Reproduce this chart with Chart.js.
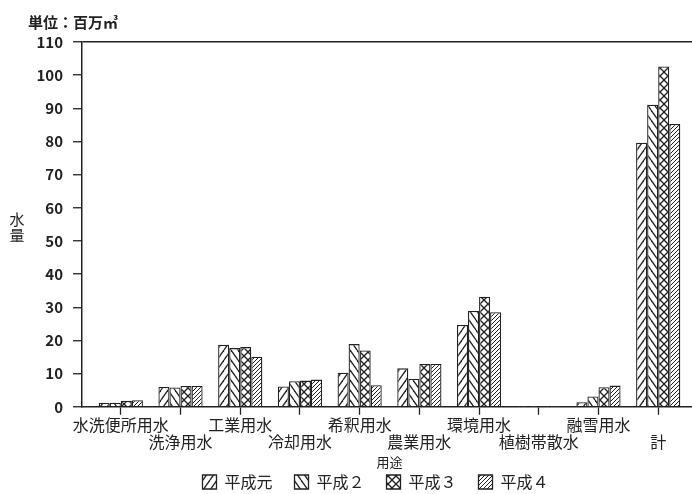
<!DOCTYPE html>
<html>
<head>
<meta charset="utf-8">
<script src="https://cdn.jsdelivr.net/npm/chart.js@4.4.1/dist/chart.umd.min.js"></script>
<style>
  html, body { margin: 0; padding: 0; background: #fff; overflow: hidden; }
  #wrap { width: 700px; height: 500px; }
</style>
</head>
<body>
<div id="wrap"><canvas id="chart"></canvas></div>
<script>
// 用途別の水量（単位：百万㎥）
const categories = ['水洗便所用水', '洗浄用水', '工業用水', '冷却用水', '希釈用水', '農業用水', '環境用水', '植樹帯散水', '融雪用水', '計'];
const seriesNames = ['平成元', '平成２', '平成３', '平成４'];
const heisei1 = [1.2, 6.0, 18.7, 6.1, 10.3, 11.6, 24.7, 0.1, 1.4, 79.6];
const heisei2 = [1.2, 5.8, 17.7, 7.7, 18.9, 8.4, 28.9, 0.1, 3.1, 91.1];
const heisei3 = [1.8, 6.3, 18.0, 7.9, 17.0, 12.9, 33.2, 0.1, 5.9, 102.6];
const heisei4 = [2.0, 6.3, 15.1, 8.2, 6.5, 12.9, 28.5, 0.1, 6.4, 85.3];
const yMin = 0, yMax = 110, yStep = 10;
const unitText = '単位：百万㎥';
const yTitle = ['水', '量'];
const xTitle = '用途';

const FONT = '"Noto Sans CJK JP", "Noto Sans", sans-serif';
const INK = '#222';

// hatch fills
function hatch(kind) {
  const c = document.createElement('canvas');
  const sizes = { fwd: [7, 10], back: [7, 10], cross: [8, 8], dense: [4, 4] };
  const [w, h] = sizes[kind];
  c.width = w; c.height = h;
  const g = c.getContext('2d');
  g.fillStyle = '#fff';
  g.fillRect(0, 0, w, h);
  g.strokeStyle = INK;
  g.lineWidth = kind === 'dense' ? 1 : 1.3;
  const fwd = () => {
    for (const dx of [-w, 0, w]) {
      g.beginPath(); g.moveTo(dx, h); g.lineTo(dx + w, 0); g.stroke();
    }
  };
  const back = () => {
    for (const dx of [-w, 0, w]) {
      g.beginPath(); g.moveTo(dx, 0); g.lineTo(dx + w, h); g.stroke();
    }
  };
  if (kind === 'fwd' || kind === 'dense') fwd();
  if (kind === 'back') back();
  if (kind === 'cross') { fwd(); back(); }
  return g.createPattern(c, 'repeat');
}

const fills = [hatch('fwd'), hatch('back'), hatch('cross'), hatch('dense')];
const series = [heisei1, heisei2, heisei3, heisei4];

const datasets = series.map((vals, s) => ({
  label: seriesNames[s],
  data: vals.map((v, i) => ({ x: i, y: v })),
  backgroundColor: fills[s],
  borderColor: INK,
  borderWidth: 1.3,
  barPercentage: 1,
  categoryPercentage: 0.74
}));

const yTitlePlugin = {
  id: 'yTitle',
  afterDraw(chart) {
    const { ctx, chartArea } = chart;
    const mid = (chartArea.top + chartArea.bottom) / 2;
    ctx.save();
    ctx.font = '15px ' + FONT;
    ctx.fillStyle = INK;
    ctx.textAlign = 'center';
    ctx.textBaseline = 'middle';
    yTitle.forEach((ch, i) => ctx.fillText(ch, 17, mid - 5 + i * 16));
    ctx.restore();
  }
};

// nudge the legend row a little to the right, like the original
const legendShift = {
  id: 'legendShift',
  afterLayout(chart) {
    if (chart.legend) { chart.legend.left += 13; chart.legend.right += 13; }
  }
};

new Chart(document.getElementById('chart'), {
  type: 'bar',
  data: { datasets },
  plugins: [yTitlePlugin, legendShift],
  options: {
    responsive: true,
    maintainAspectRatio: false,
    animation: false,
    layout: { padding: { left: 28, right: 3, top: 0, bottom: 0 } },
    plugins: {
      tooltip: { enabled: false },
      title: {
        display: true,
        text: unitText,
        align: 'start',
        color: INK,
        font: { family: FONT, size: 15, weight: 'bold' },
        padding: { top: 13, bottom: 11 }
      },
      legend: {
        position: 'bottom',
        labels: {
          color: INK,
          font: { family: FONT, size: 16 },
          boxWidth: 14,
          boxHeight: 14,
          padding: 22
        }
      }
    },
    scales: {
      x: {
        type: 'linear',
        min: -0.65,
        max: 9.65,
        offset: false,
        border: { display: true, color: INK, width: 1.5 },
        grid: { display: true, offset: false, drawOnChartArea: false, tickLength: 8, tickColor: INK, tickWidth: 1.3 },
        ticks: {
          stepSize: 1,
          includeBounds: false,
          autoSkip: false,
          maxRotation: 0,
          minRotation: 0,
          padding: 1.5,
          color: INK,
          font: { family: FONT, size: 16, lineHeight: 1.05 },
          callback: (value) => {
            if (!Number.isInteger(value) || !categories[value]) return '';
            return value % 2 === 0 ? categories[value] : ['', categories[value]];
          }
        },
        title: {
          display: true,
          text: xTitle,
          color: INK,
          font: { family: FONT, size: 13 },
          padding: { top: 3, bottom: -18 }
        }
      },
      y: {
        min: yMin,
        max: yMax,
        border: { display: true, color: INK, width: 1.5 },
        grid: {
          drawOnChartArea: true,
          tickLength: 9,
          tickColor: INK,
          tickWidth: 1.3,
          lineWidth: 1.5,
          color: (ctx) => (ctx.tick && ctx.tick.value === yMax ? INK : 'rgba(0,0,0,0)')
        },
        ticks: {
          stepSize: yStep,
          padding: 10,
          color: INK,
          font: { family: FONT, size: 15, weight: 'bold' }
        },
        afterFit: (scale) => { scale.width = 54; }
      }
    }
  }
});
</script>
</body>
</html>
